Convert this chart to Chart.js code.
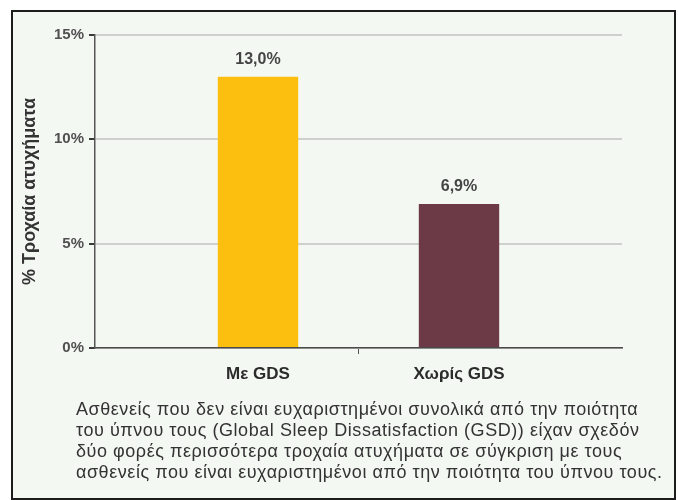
<!DOCTYPE html>
<html>
<head>
<meta charset="utf-8">
<script src="https://cdn.jsdelivr.net/npm/chart.js@4.4.1/dist/chart.umd.min.js"></script>
<style>
  html, body { margin: 0; padding: 0; background: #ffffff; }
  #wrap { position: relative; width: 678px; height: 500px; overflow: hidden; }
  #box { position: absolute; left: 11px; top: 10px; width: 665px; height: 490px; box-sizing: border-box;
         border: 2px solid #1c1c1c; background: #f4f8f3; }
  #c { position: absolute; left: 0; top: 0; }
  #caption { position: absolute; left: 76px; top: 399px; width: 600px; font-family: "Liberation Sans", Arial, sans-serif;
             font-size: 18px; letter-spacing: 0.55px; line-height: 21px; color: #333333; white-space: nowrap; }
</style>
</head>
<body>
<div id="wrap">
  <div id="box"></div>
  <canvas id="c" width="678" height="500"></canvas>
  <div id="caption"></div>
</div>
<script>
// ---- data ----
const categories = ['Με GDS', 'Χωρίς GDS'];
const accidentRates = [13.0, 6.9];
const barColors = ['#fcbf10', '#6c3a46'];
const yTickValues = [0, 5, 10, 15];
const yAxisTitle = '% Τροχαία ατυχήματα';
const captionLines = [
  'Ασθενείς που δεν είναι ευχαριστημένοι συνολικά από την ποιότητα',
  'του ύπνου τους (Global Sleep Dissatisfaction (GSD)) είχαν σχεδόν',
  'δύο φορές περισσότερα τροχαία ατυχήματα σε σύγκριση με τους',
  'ασθενείς που είναι ευχαριστημένοι από την ποιότητα του ύπνου τους.'
];

document.getElementById('caption').innerHTML = captionLines.map(l => '<div>' + l + '</div>').join('');

const FONT = '"Liberation Sans", Arial, sans-serif';

const valueLabels = {
  id: 'valueLabels',
  afterDatasetsDraw(chart) {
    const ctx = chart.ctx;
    const meta = chart.getDatasetMeta(0);
    ctx.save();
    ctx.font = 'bold 16px ' + FONT;
    ctx.fillStyle = '#444444';
    ctx.textAlign = 'center';
    ctx.textBaseline = 'middle';
    meta.data.forEach((bar, i) => {
      const txt = accidentRates[i].toFixed(1).replace('.', ',') + '%';
      ctx.fillText(txt, bar.x, bar.y - 17);
    });
    ctx.restore();
  }
};

new Chart(document.getElementById('c'), {
  type: 'bar',
  data: {
    datasets: [{
      data: accidentRates.map((v, i) => ({ x: i, y: v })),
      backgroundColor: barColors,
      borderWidth: 0,
      barPercentage: 0.8,
      categoryPercentage: 1
    }]
  },
  options: {
    responsive: false,
    animation: false,
    layout: { padding: { left: 19, right: 56, top: 35, bottom: 112 } },
    plugins: { legend: { display: false }, tooltip: { enabled: false } },
    scales: {
      x: {
        type: 'linear',
        offset: false,
        min: -0.811,
        max: 1.811,
        afterBuildTicks: s => { s.ticks = [{ value: 0 }, { value: 0.5 }, { value: 1 }]; },
        afterFit: s => { s.height = 40; },
        ticks: {
          callback: v => (categories[v] !== undefined ? categories[v] : ''),
          font: { family: FONT, size: 17, weight: 'bold' },
          color: '#2b2b2b',
          padding: 10,
          maxRotation: 0,
          autoSkip: false
        },
        grid: {
          offset: false,
          drawOnChartArea: false,
          drawTicks: true,
          tickLength: 6,
          tickWidth: 1,
          tickColor: c => (c.tick && c.tick.value === 0.5 ? '#555555' : 'rgba(0,0,0,0)')
        },
        border: { display: true, color: '#4a4a4a', width: 1.5 }
      },
      y: {
        min: 0,
        max: 15,
        afterBuildTicks: s => { s.ticks = yTickValues.map(v => ({ value: v })); },
        afterFit: s => { s.width = 76; },
        ticks: {
          callback: v => v + '%',
          font: { family: FONT, size: 15, weight: 'bold' },
          color: '#505050',
          padding: 5
        },
        grid: {
          color: '#cdd0cd',
          lineWidth: 2,
          tickLength: 6,
          tickWidth: 2,
          tickColor: '#3a3a3a'
        },
        border: { display: true, color: '#555555', width: 1.5 },
        title: {
          display: true,
          text: yAxisTitle,
          font: { family: FONT, size: 18, weight: 'bold' },
          color: '#333333',
          padding: 0
        }
      }
    }
  },
  plugins: [valueLabels]
});
</script>
</body>
</html>
